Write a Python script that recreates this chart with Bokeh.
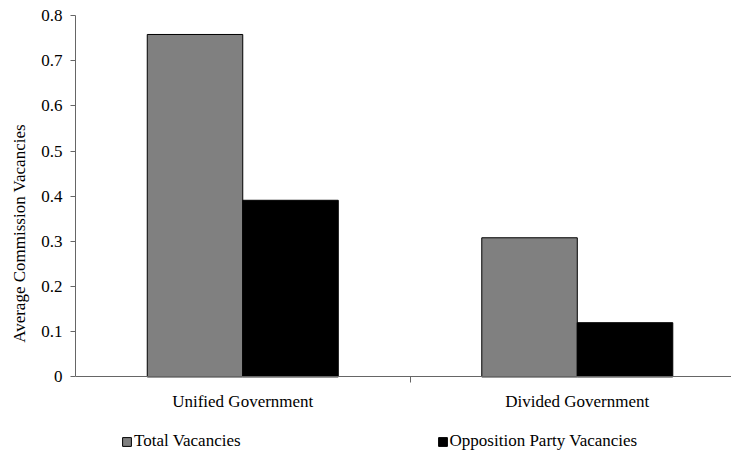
from bokeh.plotting import figure
from bokeh.models import Range1d, FixedTicker, Legend, LegendItem, ColumnDataSource
from bokeh.embed import file_html
from bokeh.resources import INLINE

# data
categories = ["Unified Government", "Divided Government"]
series_names = ["Total Vacancies", "Opposition Party Vacancies"]
total_vacancies = [0.758, 0.308]
opposition_vacancies = [0.391, 0.120]
y_ticks = [0, 0.1, 0.2, 0.3, 0.4, 0.5, 0.6, 0.7, 0.8]
y_tick_labels = ["0", "0.1", "0.2", "0.3", "0.4", "0.5", "0.6", "0.7", "0.8"]

FONT = "Liberation Serif"
FS = "17px"
BAR_W = 0.2855

x_center = [i + 0.5 for i in range(len(categories))]
source = ColumnDataSource(data=dict(
    x_total=[c - BAR_W / 2 for c in x_center],
    x_opp=[c + BAR_W / 2 for c in x_center],
    total=total_vacancies,
    opp=opposition_vacancies,
))

# frame runs down to the bottom so the legend can sit inside it;
# the x axis is pinned at y = 0
p = figure(width=731, height=451, output_backend="svg", toolbar_location=None,
           x_range=Range1d(0, 1.961), y_range=Range1d(-0.1651, 0.8),
           min_border_left=75, min_border_right=0, min_border_top=15, min_border_bottom=0)
p.outline_line_color = None
p.grid.visible = False

r_total = p.vbar(x="x_total", top="total", width=BAR_W, source=source,
                 fill_color="#808080", line_color="black", line_width=1)
r_opp = p.vbar(x="x_opp", top="opp", width=BAR_W, source=source,
               fill_color="black", line_color="black", line_width=1)

# y axis
p.yaxis.ticker = FixedTicker(ticks=y_ticks)
p.yaxis.major_label_overrides = dict(zip(y_ticks, y_tick_labels))
p.yaxis.bounds = (0, 0.8)
p.yaxis.axis_label = "Average Commission Vacancies"
p.yaxis.axis_label_text_font = FONT
p.yaxis.axis_label_text_font_size = FS
p.yaxis.axis_label_text_font_style = "normal"
p.yaxis.axis_label_standoff = 9
p.yaxis.major_tick_out = 5
p.yaxis.major_tick_in = 0
p.yaxis.major_label_standoff = 8

# x axis: category names at centres, divider tick between groups
p.xaxis.fixed_location = 0
p.xaxis.ticker = FixedTicker(ticks=x_center, minor_ticks=[1])
p.xaxis.major_label_overrides = dict(zip(x_center, categories))
p.xaxis.major_tick_out = 0
p.xaxis.major_tick_in = 0
p.xaxis.minor_tick_out = 6
p.xaxis.minor_tick_in = 0
p.xaxis.major_label_standoff = 9

for ax in (p.xaxis, p.yaxis):
    ax.axis_line_color = "#666666"
    ax.major_tick_line_color = "#666666"
    ax.minor_tick_line_color = "#666666"
    ax.major_label_text_font = FONT
    ax.major_label_text_font_size = FS
    ax.major_label_text_color = "black"
    ax.axis_label_text_color = "black"

legend = Legend(items=[LegendItem(label=series_names[0], renderers=[r_total]),
                       LegendItem(label=series_names[1], renderers=[r_opp])],
                orientation="horizontal", location=(46, 0),
                glyph_width=11, glyph_height=11, label_standoff=2, spacing=196,
                padding=0, margin=0, border_line_color=None, background_fill_alpha=0,
                label_text_font=FONT, label_text_font_size=FS, label_text_color="black")
p.add_layout(legend)

open("out.html", "w").write(file_html(p, INLINE))
